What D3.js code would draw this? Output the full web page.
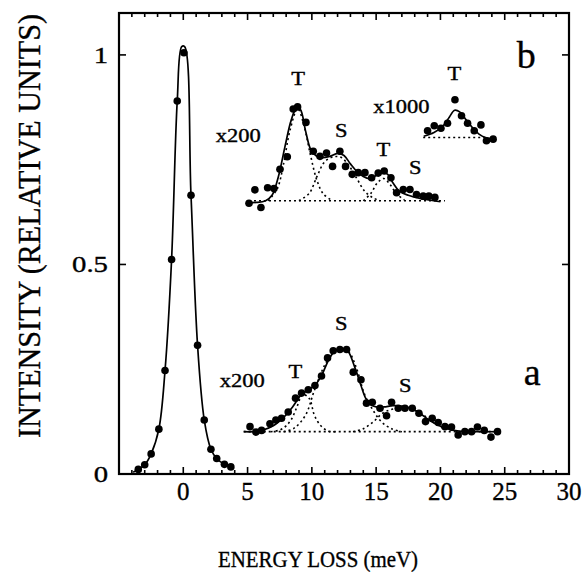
<!DOCTYPE html>
<html>
<head>
<meta charset="utf-8">
<script src="https://cdn.jsdelivr.net/npm/d3@7"></script>
<style>
  body { margin: 0; background: #fff; }
  svg { font-family: "Liberation Serif", "DejaVu Serif", serif; }
</style>
</head>
<body>
<svg id="chart" width="585" height="573"></svg>
<script>
// elastic peak (measured points + fitted curve)
var peakX = [-3.5, -3.0, -2.5, -1.9, -1.42, -0.91, -0.47, 0.05, 0.6, 1.11, 1.63, 2.15, 2.6, 3.2, 3.7];
var peakY = [0.011, 0.022, 0.048, 0.107, 0.247, 0.512, 0.89, 1.005, 0.665, 0.307, 0.129, 0.059, 0.037, 0.023, 0.017];
var peakFitX = [-3.9, -3.5, -3.0, -2.5, -1.9, -1.42, -0.91, -0.47, -0.12, 0.1, 0.6, 1.11, 1.63, 2.15, 2.6, 3.2, 3.7];
var peakFitY = [0.004, 0.011, 0.022, 0.048, 0.107, 0.247, 0.512, 0.89, 1.02, 1.02, 0.665, 0.307, 0.129, 0.059, 0.037, 0.023, 0.017];

// spectrum a (x200)
var aX = [5.19, 5.65, 6.09, 6.74, 7.2, 7.64, 8.16, 8.73, 9.2, 9.72, 10.24, 10.75, 11.22, 11.66, 12.18, 12.7, 13.22, 13.82, 14.25, 14.7, 15.3, 15.81, 16.2, 16.72, 17.24, 17.81, 18.33, 18.84, 19.36, 19.83, 20.35, 20.86, 21.38, 21.9, 22.42, 22.88, 23.41, 23.93, 24.44];
var aY = [0.113, 0.100, 0.104, 0.120, 0.129, 0.133, 0.148, 0.181, 0.193, 0.201, 0.211, 0.234, 0.277, 0.294, 0.297, 0.297, 0.243, 0.225, 0.169, 0.171, 0.157, 0.139, 0.171, 0.157, 0.157, 0.157, 0.145, 0.125, 0.133, 0.123, 0.113, 0.112, 0.093, 0.101, 0.101, 0.112, 0.104, 0.088, 0.101];
var aFitX = [4.7, 5.5, 6.2, 7.0, 7.8, 8.5, 9.2, 9.7, 10.3, 10.8, 11.3, 11.8, 12.3, 12.8, 13.3, 13.8, 14.2, 14.6, 15.0, 15.6, 16.3, 17.0, 17.7, 18.4, 19.2, 20.0, 20.8, 21.6, 22.5, 24.7];
var aFitY = [0.101, 0.101, 0.105, 0.115, 0.135, 0.16, 0.19, 0.2, 0.214, 0.238, 0.272, 0.294, 0.30, 0.293, 0.258, 0.213, 0.18, 0.165, 0.16, 0.16, 0.163, 0.162, 0.157, 0.145, 0.127, 0.114, 0.106, 0.102, 0.101, 0.101];
var aBaseX = [4.7, 24.5];
var aBaseY = [0.101, 0.101];
var aTX = [6.8, 7.5, 8.0, 8.4, 8.8, 9.3, 9.8, 10.2, 10.7, 11.3, 12.0];
var aTY = [0.101, 0.105, 0.115, 0.13, 0.157, 0.19, 0.18, 0.14, 0.115, 0.102, 0.101];
var aS1X = [7.8, 8.6, 9.5, 10.2, 11.0, 11.7, 12.3, 12.9, 13.5, 14.1, 14.7, 15.4, 16.2, 17.0];
var aS1Y = [0.101, 0.109, 0.14, 0.2, 0.26, 0.292, 0.30, 0.29, 0.25, 0.19, 0.155, 0.125, 0.108, 0.101];
var aS2X = [13.2, 14.0, 14.8, 15.5, 16.3, 17.2, 18.0, 18.8, 19.6, 20.5, 21.5];
var aS2Y = [0.101, 0.108, 0.125, 0.145, 0.155, 0.157, 0.152, 0.138, 0.12, 0.107, 0.101];

// spectrum b (x200)
var bX = [5.11, 5.57, 6.04, 6.56, 7.05, 7.52, 8.09, 8.55, 8.89, 9.54, 10.11, 10.63, 11.14, 11.61, 12.18, 12.62, 13.14, 13.61, 14.13, 14.65, 15.16, 15.63, 16.15, 16.59, 17.11, 17.63, 18.14, 18.66, 19.1, 19.57];
var bY = [0.646, 0.678, 0.636, 0.683, 0.681, 0.727, 0.757, 0.871, 0.876, 0.839, 0.77, 0.758, 0.766, 0.734, 0.77, 0.734, 0.715, 0.719, 0.719, 0.707, 0.718, 0.723, 0.707, 0.671, 0.679, 0.679, 0.667, 0.663, 0.663, 0.66];
var bFitX = [4.9, 5.7, 6.4, 6.9, 7.4, 7.9, 8.4, 8.8, 9.1, 9.5, 9.9, 10.3, 10.8, 11.4, 12.0, 12.5, 13.0, 13.5, 14.0, 14.5, 15.0, 15.5, 15.9, 16.3, 16.8, 17.5, 18.5, 19.5, 20.0];
var bFitY = [0.648, 0.648, 0.652, 0.665, 0.71, 0.78, 0.845, 0.873, 0.87, 0.82, 0.775, 0.76, 0.755, 0.758, 0.765, 0.76, 0.74, 0.722, 0.71, 0.705, 0.712, 0.72, 0.715, 0.695, 0.675, 0.665, 0.657, 0.652, 0.65];
var bBaseX = [5.5, 20.35];
var bBaseY = [0.652, 0.652];
var bTX = [6.6, 7.3, 7.8, 8.3, 8.9, 9.4, 9.9, 10.4, 10.9, 11.5];
var bTY = [0.652, 0.68, 0.74, 0.82, 0.872, 0.83, 0.76, 0.7, 0.668, 0.654];
var bS1X = [9.0, 9.8, 10.4, 11.0, 11.7, 12.3, 12.9, 13.5, 14.1, 14.7, 15.3];
var bS1Y = [0.652, 0.67, 0.71, 0.745, 0.757, 0.755, 0.735, 0.705, 0.675, 0.66, 0.652];
var bT2X = [14.0, 14.6, 15.1, 15.6, 16.1, 16.6, 17.2];
var bT2Y = [0.652, 0.67, 0.695, 0.705, 0.69, 0.668, 0.654];

// spectrum b (x1000)
var cX = [19.0, 19.52, 20.04, 20.55, 21.13, 21.64, 22.11, 22.63, 23.15, 23.58, 24.1];
var cY = [0.819, 0.831, 0.825, 0.837, 0.893, 0.855, 0.837, 0.819, 0.833, 0.795, 0.799];
var cFitX = [18.7, 19.5, 20.2, 20.7, 21.1, 21.5, 22.0, 22.5, 23.0, 23.5, 24.1];
var cFitY = [0.806, 0.815, 0.83, 0.852, 0.868, 0.864, 0.845, 0.826, 0.811, 0.803, 0.8];
var cBaseX = [18.66, 23.6];
var cBaseY = [0.803, 0.803];

var xTicks = [0, 5, 10, 15, 20, 25, 30];
var yTicks = [0, 0.5, 1];

// annotations: [x, y(baseline), text]
var notes = [
  [8.94, 0.928, "T"], [12.29, 0.805, "S"], [15.56, 0.759, "T"], [18.04, 0.716, "S"],
  [4.28, 0.793, "x200"], [16.96, 0.862, "x1000"], [21.08, 0.94, "T"],
  [8.71, 0.229, "T"], [12.29, 0.344, "S"], [17.27, 0.196, "S"], [4.59, 0.208, "x200"]
];
var panelLabels = [[26.68, 0.969, "b"], [27.14, 0.212, "a"]];

var m = {left: 119, right: 569, top: 13, bottom: 474};
var svg = d3.select("#chart");

var x = d3.scaleLinear().domain([-5, 30]).range([m.left, m.right]);
var y = d3.scaleLinear().domain([0, 1.1]).range([m.bottom, m.top]);

function pairs(xs, ys) { return xs.map(function(v, i) { return [v, ys[i]]; }); }

var smooth = d3.line().x(function(d) { return x(d[0]); }).y(function(d) { return y(d[1]); })
  .curve(d3.curveCatmullRom.alpha(0.5));

// fitted curves
var solids = [[peakFitX, peakFitY], [aFitX, aFitY], [bFitX, bFitY], [cFitX, cFitY]];
solids.forEach(function(s) {
  svg.append("path").attr("d", smooth(pairs(s[0], s[1])))
    .attr("fill", "none").attr("stroke", "#000").attr("stroke-width", 1.7);
});

var dotted = [[aBaseX, aBaseY], [aTX, aTY], [aS1X, aS1Y], [aS2X, aS2Y],
  [bBaseX, bBaseY], [bTX, bTY], [bS1X, bS1Y], [bT2X, bT2Y], [cBaseX, cBaseY]];
dotted.forEach(function(s) {
  svg.append("path").attr("d", smooth(pairs(s[0], s[1])))
    .attr("fill", "none").attr("stroke", "#000").attr("stroke-width", 1.6)
    .attr("stroke-dasharray", "2,3");
});

// measured points
[[peakX, peakY], [aX, aY], [bX, bY], [cX, cY]].forEach(function(s) {
  svg.append("g").selectAll("circle").data(pairs(s[0], s[1])).enter().append("circle")
    .attr("cx", function(d) { return x(d[0]); })
    .attr("cy", function(d) { return y(d[1]); })
    .attr("r", 3.8).attr("fill", "#000");
});

// frame
svg.append("rect").attr("x", m.left).attr("y", m.top)
  .attr("width", m.right - m.left).attr("height", m.bottom - m.top)
  .attr("fill", "none").attr("stroke", "#000").attr("stroke-width", 2.2);

// ticks, inward on all sides
var minor = d3.range(-5, 31, 1);
var tk = svg.append("g").attr("stroke", "#000").attr("stroke-width", 1.6);
minor.forEach(function(v) {
  var len = (v % 5 === 0) ? 7 : 4;
  tk.append("line").attr("x1", x(v)).attr("x2", x(v)).attr("y1", m.bottom).attr("y2", m.bottom - len);
  tk.append("line").attr("x1", x(v)).attr("x2", x(v)).attr("y1", m.top).attr("y2", m.top + len);
});
yTicks.forEach(function(v) {
  tk.append("line").attr("x1", m.left).attr("x2", m.left + 7).attr("y1", y(v)).attr("y2", y(v));
  tk.append("line").attr("x1", m.right).attr("x2", m.right - 7).attr("y1", y(v)).attr("y2", y(v));
});

var ink = svg.append("g").attr("fill", "#000").attr("stroke", "#000").attr("stroke-width", 0.35);

// tick labels
ink.append("g").selectAll("text").data(xTicks).enter().append("text")
  .attr("x", function(d) { return x(d); }).attr("y", 500)
  .attr("text-anchor", "middle").attr("font-size", 25).text(function(d) { return d; });
ink.append("g").selectAll("text").data(yTicks).enter().append("text")
  .attr("transform", function(d) { return "translate(108," + (y(d) + 8) + ") scale(1.25,1)"; })
  .attr("text-anchor", "end").attr("font-size", 23).text(function(d) { return d; });

// axis titles
ink.append("text").attr("x", 318).attr("y", 567).attr("text-anchor", "middle")
  .attr("font-size", 24).attr("textLength", 200).attr("lengthAdjust", "spacingAndGlyphs")
  .text("ENERGY LOSS (meV)");
ink.append("text").attr("transform", "translate(40,226) rotate(-90)")
  .attr("text-anchor", "middle").attr("font-size", 31)
  .attr("textLength", 424).attr("lengthAdjust", "spacingAndGlyphs")
  .text("INTENSITY (RELATIVE UNITS)");

// annotations
ink.append("g").selectAll("text").data(notes).enter().append("text")
  .attr("transform", function(d) { return "translate(" + x(d[0]) + "," + y(d[1]) + ") scale(1.25,1)"; })
  .attr("text-anchor", "middle").attr("font-size", 18)
  .text(function(d) { return d[2]; });
ink.append("g").selectAll("text").data(panelLabels).enter().append("text")
  .attr("x", function(d) { return x(d[0]); }).attr("y", function(d) { return y(d[1]); })
  .attr("text-anchor", "middle").attr("font-size", 38)
  .text(function(d) { return d[2]; });
</script>
</body>
</html>
